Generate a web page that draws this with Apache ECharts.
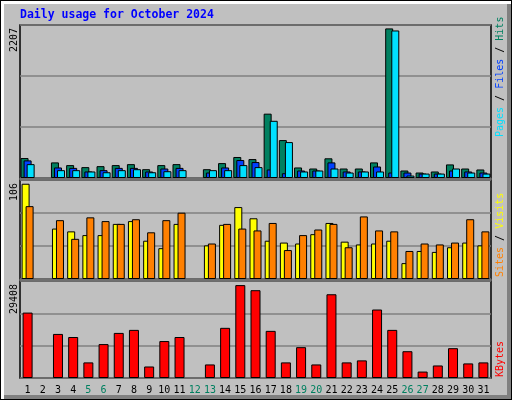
<!DOCTYPE html>
<html>
<head>
<meta charset="utf-8">
<script src="https://cdn.jsdelivr.net/npm/echarts@6/dist/echarts.min.js"></script>
<style>html,body{margin:0;padding:0;background:#c0c0c0}#chart{width:512px;height:400px}</style>
</head>
<body>
<div id="chart"></div>
<script>
// values
const days = ['1','2','3','4','5','6','7','8','9','10','11','12','13','14','15','16','17','18','19','20','21','22','23','24','25','26','27','28','29','30','31'];
const weekendDays = ['5','6','12','13','19','20','26','27'];
const hits  = [288,0,225,186,157,171,186,200,127,186,200,0,127,215,303,273,928,547,152,137,284,137,137,225,2158,108,79,94,196,137,123];
const files = [254,0,152,146,94,113,146,146,94,137,146,0,79,152,259,230,123,69,108,108,225,94,94,166,79,79,64,64,108,94,79];
const pages = [200,0,113,113,94,83,113,127,83,98,113,0,113,113,186,157,825,518,94,108,137,79,94,94,2128,35,64,64,137,79,64];
const visits = [102,0,54,51,47,47,59,62,41,33,59,0,36,58,77,65,41,39,38,48,60,40,37,38,41,17,30,29,34,39,36];
const sites  = [78,0,63,43,66,62,59,64,50,63,71,0,38,59,54,52,60,31,47,53,59,34,67,52,51,30,38,37,39,64,51];
const kbytes = [19830,0,13360,12430,4730,10280,13670,14590,3490,11200,12430,0,4110,15210,28160,26620,14290,4730,9350,4110,25390,4730,5340,20760,14590,8120,1950,3800,9040,4420,4730];
const maxLabels = ['2207', '106', '29408'];
const maxValues = [2207, 106, 29408];

const chart = echarts.init(document.getElementById('chart'));
const FONT = 'DejaVu Sans Mono';
const FS = 10;

const panels = [
  { top: 25, height: 153 },
  { top: 180, height: 99 },
  { top: 281, height: 97 }
];

const grids = panels.map(p => ({
  left: 20, width: 471, top: p.top, height: p.height,
  show: true, backgroundColor: '#c0c0c0', borderColor: '#000', borderWidth: 1.5
}));

const xAxes = panels.map((p, i) => ({
  type: 'category', gridIndex: i, data: days,
  axisLine: { show: false }, axisTick: { show: false },
  axisLabel: {
    show: i === 2, interval: 0, margin: 7, fontFamily: FONT, fontSize: FS,
    color: v => weekendDays.includes(v) ? '#008060' : '#000'
  }
}));

const yAxes = maxValues.map((m, i) => ({
  type: 'value', gridIndex: i, min: 0, max: m, interval: m / 3,
  axisLabel: { show: false }, axisLine: { show: false }, axisTick: { show: false },
  splitLine: { lineStyle: { color: '#808080', width: 1.5 } }
}));

const border = { borderColor: '#000', borderWidth: 1 };
// empty days draw no bar
const bar = (name, data, idx, color, width, gap) => ({
  name, type: 'bar', data: data.map(v => v === 0 ? '-' : v), xAxisIndex: idx, yAxisIndex: idx,
  barWidth: width, barGap: gap, itemStyle: Object.assign({ color }, border),
  silent: true, animation: false
});

const vText = (x, y, colors, segs) => {
  const rich = {};
  Object.keys(colors).forEach(k => { rich[k] = { fill: colors[k], fontFamily: FONT, fontSize: FS }; });
  return {
    type: 'text', x, y, rotation: Math.PI / 2,
    style: {
      text: segs.map(s => `{${s[0]}|${s[1]}}`).join(''),
      rich, fontFamily: FONT, fontSize: FS, textAlign: 'left', textVerticalAlign: 'middle'
    }
  };
};

chart.setOption({
  backgroundColor: '#c0c0c0',
  animation: false,
  grid: grids,
  xAxis: xAxes,
  yAxis: yAxes,
  series: [
    bar('Hits', hits, 0, '#008060', 8, '-62%'),
    bar('Files', files, 0, '#0040ff', 8, '-62%'),
    bar('Pages', pages, 0, '#00e0ff', 8, '-62%'),
    bar('Visits', visits, 1, '#ffff00', 8, '-50%'),
    bar('Sites', sites, 1, '#ff8000', 8, '-50%'),
    bar('KBytes', kbytes, 2, '#ff0000', 10, '0%')
  ],
  graphic: [
    // frame
    { type: 'rect', z: -10, shape: { x: 0, y: 0, width: 512, height: 400 }, style: { fill: '#000' } },
    { type: 'rect', z: -9, shape: { x: 1, y: 1, width: 510, height: 398 }, style: { fill: '#ffffff' } },
    { type: 'rect', z: -8, shape: { x: 4, y: 4, width: 507, height: 395 }, style: { fill: '#808080' } },
    { type: 'rect', z: -7, shape: { x: 4, y: 4, width: 503, height: 391 }, style: { fill: '#c0c0c0' } },
    { type: 'rect', z: -6, shape: { x: 20, y: 177.5, width: 471, height: 4 }, style: { fill: '#fff' } },
    { type: 'rect', z: -6, shape: { x: 20, y: 278.5, width: 471, height: 3 }, style: { fill: '#fff' } },
    {
      type: 'text', x: 20, y: 9,
      style: { text: 'Daily usage for October 2024', fill: '#0000ff', fontFamily: FONT, fontSize: 11.5, fontWeight: 'bold' }
    },
    ...maxLabels.map((t, i) => ({
      type: 'text', x: 9, y: panels[i].top + 3, rotation: Math.PI / 2,
      style: { text: t, fill: '#000', fontFamily: FONT, fontSize: FS, textAlign: 'right', textVerticalAlign: 'top' }
    })),
    vText(500, 137, { p: '#00e0ff', s: '#000', f: '#0040ff', h: '#008060' },
      [['p', 'Pages'], ['s', ' / '], ['f', 'Files'], ['s', ' / '], ['h', 'Hits']]),
    vText(500, 277, { o: '#ff8000', s: '#000', y: '#ffff00' },
      [['o', 'Sites'], ['s', ' / '], ['y', 'Visits']]),
    vText(500, 377, { r: '#ff0000' }, [['r', 'KBytes']])
  ]
});
</script>
</body>
</html>
